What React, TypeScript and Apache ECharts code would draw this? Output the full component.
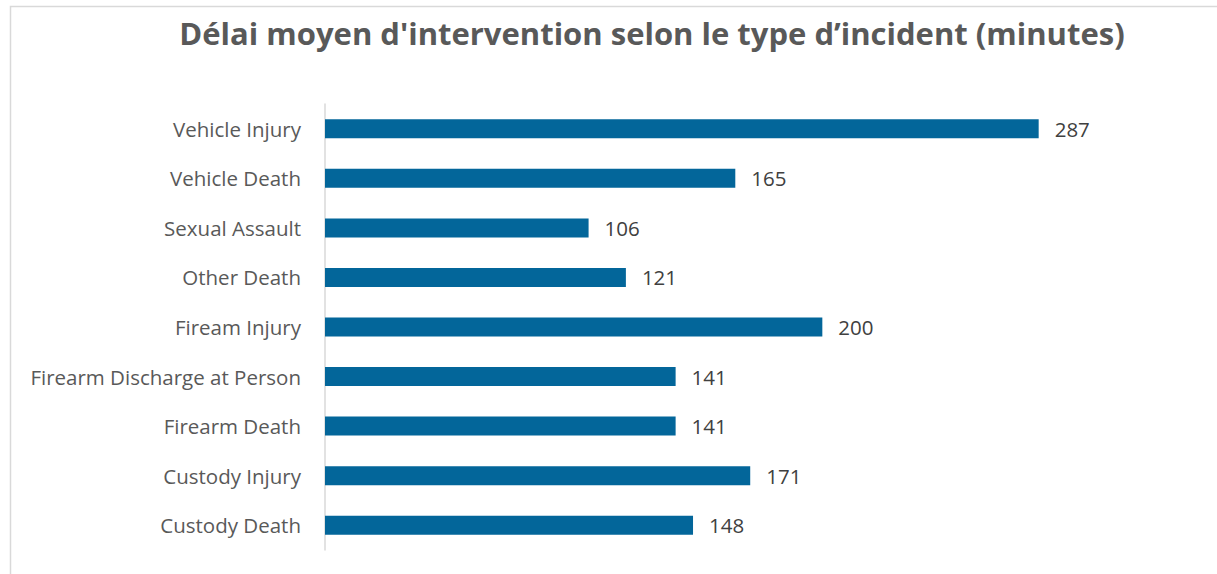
import React, { useEffect, useRef } from "react";
import * as echarts from "echarts";

const categories = [
  "Custody Death",
  "Custody Injury",
  "Firearm Death",
  "Firearm Discharge at Person",
  "Fiream Injury",
  "Other Death",
  "Sexual Assault",
  "Vehicle Death",
  "Vehicle Injury",
];
const values = [148, 171, 141, 141, 200, 121, 106, 165, 287];
const titleText = "Délai moyen d'intervention selon le type d’incident (minutes)";

export default function App() {
  const ref = useRef<HTMLDivElement>(null);
  useEffect(() => {
    const chart = echarts.init(ref.current!, null, { renderer: "svg" });
    chart.setOption({
      animation: false,
      backgroundColor: "#ffffff",
      title: {
        text: titleText,
        left: 647,
        top: 12,
        textAlign: "center",
        textStyle: {
          fontFamily: "Open Sans",
          fontWeight: "bold",
          fontSize: 31,
          color: "#595959",
        },
      },
      graphic: [
        {
          type: "rect",
          shape: { x: 10.5, y: 6.5, width: 1230, height: 600 },
          style: { fill: "none", stroke: "#d9d9d9", lineWidth: 1.5 },
          silent: true,
        },
      ],
      grid: { left: 325, top: 104, width: 746, height: 446, containLabel: false },
      xAxis: {
        type: "value",
        min: 0,
        max: 300,
        show: false,
      },
      yAxis: {
        type: "category",
        data: categories,
        axisLine: { show: true, lineStyle: { color: "#d9d9d9", width: 1.5 } },
        axisTick: { show: false },
        axisLabel: {
          margin: 24,
          fontFamily: "Open Sans",
          fontSize: 20.5,
          color: "#595959",
        },
      },
      series: [
        {
          type: "bar",
          data: values,
          barWidth: 19,
          itemStyle: { color: "#03669a" },
          label: {
            show: true,
            position: "right",
            distance: 16,
            fontFamily: "Open Sans",
            fontSize: 20.5,
            color: "#404040",
          },
        },
      ],
    });
    return () => chart.dispose();
  }, []);
  return (
    <div
      ref={ref}
      style={{ position: "fixed", left: 0, top: 0, width: 1217, height: 574 }}
    />
  );
}
